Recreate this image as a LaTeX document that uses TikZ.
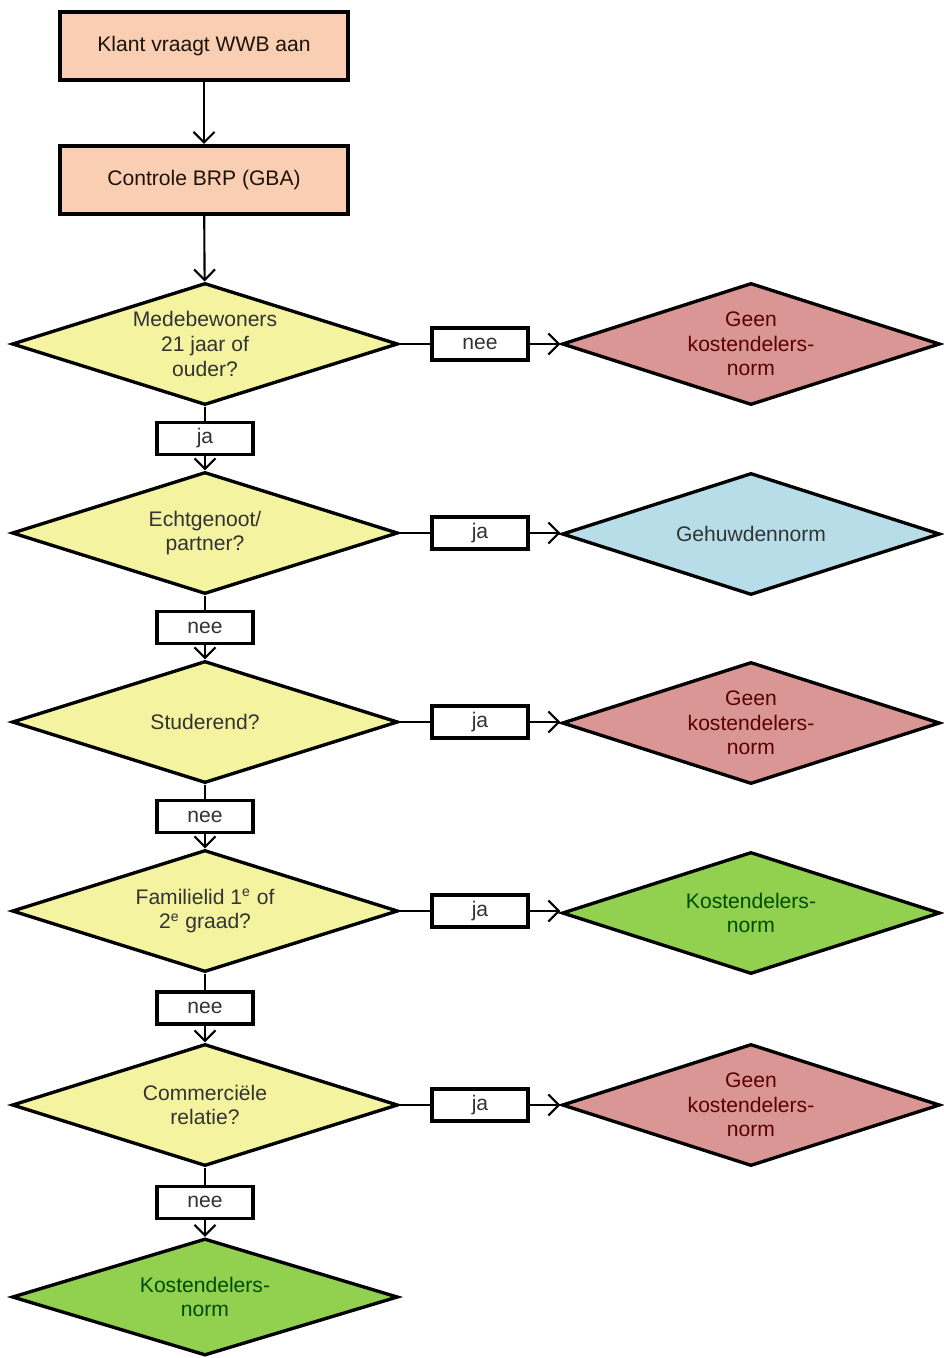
\documentclass[tikz,border=0pt]{standalone}
\usepackage{fontspec}
\setmainfont{Liberation Sans}
\usetikzlibrary{shapes.geometric,arrows.meta}

\definecolor{perzik}{RGB}{250,206,178}
\definecolor{geel}{RGB}{244,244,160}
\definecolor{rood}{RGB}{218,150,148}
\definecolor{blauw}{RGB}{183,222,232}
\definecolor{groen}{RGB}{146,208,80}

\tikzset{
	stap/.style={draw, line width=2.3pt, fill=perzik, text=black!85!brown,
		minimum width=5.76cm, minimum height=1.36cm, inner sep=0pt},
	vraag/.style={diamond, aspect=3.16, draw, line width=1.9pt, fill=geel, text=black!80,
		minimum width=7.72cm, minimum height=2.44cm, inner sep=0pt, align=center},
	uitkomst/.style={diamond, aspect=3.1, draw, line width=1.9pt,
		minimum width=7.56cm, minimum height=2.44cm, inner sep=0pt, align=center},
	keuze/.style={draw, line width=2pt, fill=white, text=black!80,
		minimum width=1.92cm, minimum height=0.64cm, inner sep=0pt},
	pijl/.style={line width=1.2pt, -{Straight Barb[length=6pt,width=12pt,line width=1.2pt]}},
}

\begin{document}
\begin{tikzpicture}[x=0.02cm, y=-0.02cm, font=\fontsize{12}{14}\selectfont]
		%%%%% START %%%%%
		\useasboundingbox (0, 0) rectangle (943, 1358);
		
		\node[stap] (klant) at (204, 46) {Klant vraagt WWB aan};
		\node[stap] (brp) at (204, 180) {Controle BRP (GBA)};
		
		\node[vraag] (mede) at (205, 344) {Medebewoners\\21 jaar of\\ouder?};
		\node[vraag] (partner) at (205, 533) {Echtgenoot/\\partner?};
		\node[vraag] (studie) at (205, 722) {Studerend?};
		\node[vraag] (familie) at (205, 911) {Familielid 1\textsuperscript{e} of\\2\textsuperscript{e} graad?};
		\node[vraag] (commercieel) at (205, 1105) {Commerciële\\relatie?};
		\node[vraag, fill=groen, text=green!30!black, minimum height=2.34cm] (eind) at (205, 1297) {Kostendelers-\\norm};
		
		\node[uitkomst, fill=rood, text=red!35!black] (geen1) at (751, 344) {Geen\\kostendelers-\\norm};
		\node[uitkomst, fill=blauw, text=black!80] (gehuwd) at (751, 534) {Gehuwdennorm};
		\node[uitkomst, fill=rood, text=red!35!black] (geen2) at (751, 723) {Geen\\kostendelers-\\norm};
		\node[uitkomst, fill=groen, text=green!30!black] (kosten) at (751, 913) {Kostendelers-\\norm};
		\node[uitkomst, fill=rood, text=red!35!black] (geen3) at (751, 1105) {Geen\\kostendelers-\\norm};
		
		\draw[pijl] (klant) -- (brp);
		\draw[pijl] (brp) -- (mede);
		
		% naar beneden
		\draw[pijl] (mede) -- node[keuze] {ja} (partner);
		\draw[pijl] (partner) -- node[keuze] {nee} (studie);
		\draw[pijl] (studie) -- node[keuze] {nee} (familie);
		\draw[pijl] (familie) -- node[keuze] {nee} (commercieel);
		\draw[pijl] (commercieel) -- node[keuze] {nee} (eind);
		
		% naar rechts
		\draw[pijl] (mede.east) -- node[keuze] {nee} (geen1.west);
		\draw[pijl] (partner.east) -- node[keuze] {ja} (partner.east -| gehuwd.west);
		\draw[pijl] (studie.east) -- node[keuze] {ja} (studie.east -| geen2.west);
		\draw[pijl] (familie.east) -- node[keuze] {ja} (familie.east -| kosten.west);
		\draw[pijl] (commercieel.east) -- node[keuze] {ja} (geen3.west);
		
		%%%%% END %%%%%
\end{tikzpicture}
\end{document}
